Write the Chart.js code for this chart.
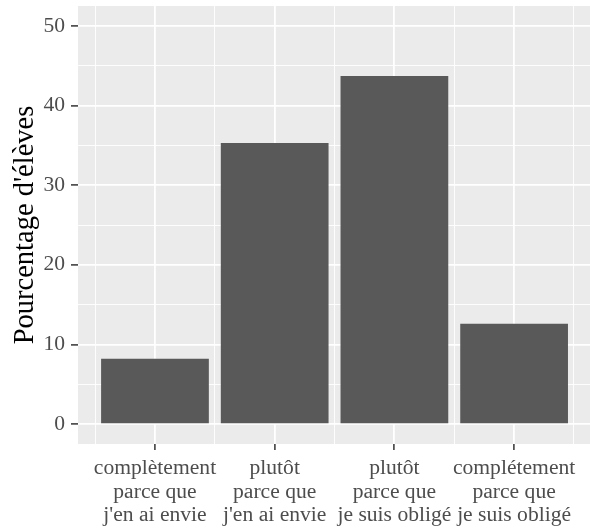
<!DOCTYPE html>
<html><head><meta charset="utf-8">
<script src="https://cdn.jsdelivr.net/npm/chart.js@4/dist/chart.umd.min.js"></script>
<style>html,body{margin:0;padding:0;background:#fff;overflow:hidden}</style>
</head><body>
<canvas id="c" width="590" height="529"></canvas>
<script>
const categories = [
  ["complètement", "parce que", "j'en ai envie"],
  ["plutôt", "parce que", "j'en ai envie"],
  ["plutôt", "parce que", "je suis obligé"],
  ["complétement", "parce que", "je suis obligé"]
];
const values = [8.2, 35.3, 43.7, 12.6];
const yMajorTicks = [0, 10, 20, 30, 40, 50];
const yMinorTicks = [5, 15, 25, 35, 45];
const xMinorTicks = [0.5, 1.5, 2.5, 3.5, 4.5];
const yTitle = "Pourcentage d'élèves";

const xPositions = categories.map((_, i) => i + 1);
const FONT = "'Liberation Serif', 'Times New Roman', serif";
const X_MIN = 0.357, X_MAX = 4.634, Y_MIN = -2.5, Y_MAX = 52.5;

const panelBg = {
  id: 'panelBg',
  beforeDraw(chart) {
    const {ctx, chartArea: a} = chart;
    ctx.save();
    ctx.fillStyle = '#EBEBEB';
    ctx.fillRect(a.left, a.top, a.right - a.left, a.bottom - a.top);
    ctx.restore();
  }
};

const isMajorY = v => yMajorTicks.includes(v);

new Chart(document.getElementById('c'), {
  type: 'bar',
  data: {
    datasets: [{
      data: xPositions.map((x, i) => ({x: x, y: values[i]})),
      backgroundColor: '#595959',
      borderWidth: 0,
      barPercentage: 0.9,
      categoryPercentage: 1.0,
      xAxisID: 'x',
      yAxisID: 'y'
    }]
  },
  options: {
    responsive: false,
    animation: false,
    devicePixelRatio: 1,
    layout: {padding: {top: 6, right: 0, bottom: 0, left: 0}},
    plugins: {legend: {display: false}, tooltip: {enabled: false}},
    scales: {
      x: {
        type: 'linear',
        position: 'bottom',
        offset: false,
        min: X_MIN, max: X_MAX,
        afterBuildTicks: s => { s.ticks = xPositions.map(v => ({value: v})); },
        afterFit: s => { s.height = 85; s.paddingLeft = 0; s.paddingRight = 0; },
        border: {display: false},
        grid: {
          offset: false,
          color: '#FFFFFF', lineWidth: 1.8,
          drawTicks: true, tickLength: 6, tickWidth: 1.5, tickColor: '#333333'
        },
        ticks: {
          autoSkip: false, maxRotation: 0, minRotation: 0,
          padding: 7,
          color: '#4D4D4D',
          font: {family: FONT, size: 21.6, lineHeight: 1.08},
          callback: v => categories[v - 1] || ''
        }
      },
      xMinor: {
        type: 'linear',
        position: 'bottom',
        offset: false,
        min: X_MIN, max: X_MAX,
        afterBuildTicks: s => { s.ticks = xMinorTicks.map(v => ({value: v})); },
        afterFit: s => { s.height = 0; s.paddingLeft = 0; s.paddingRight = 0; },
        border: {display: false},
        grid: {offset: false, color: '#FFFFFF', lineWidth: 0.9, drawTicks: false},
        ticks: {display: false}
      },
      y: {
        type: 'linear',
        min: Y_MIN, max: Y_MAX,
        afterBuildTicks: s => {
          s.ticks = [...yMajorTicks, ...yMinorTicks].sort((a, b) => a - b).map(v => ({value: v}));
        },
        afterFit: s => { s.width = 78; s.paddingTop = 0; s.paddingBottom = 0; },
        border: {display: false},
        grid: {
          color: '#FFFFFF',
          lineWidth: ctx => isMajorY(ctx.tick.value) ? 1.8 : 0.9,
          drawTicks: true, tickLength: 7, tickWidth: 1.5,
          tickColor: ctx => isMajorY(ctx.tick.value) ? '#333333' : 'rgba(0,0,0,0)'
        },
        ticks: {
          autoSkip: false,
          padding: 6,
          color: '#4D4D4D',
          font: {family: FONT, size: 21.6},
          callback: v => isMajorY(v) ? String(v) : ''
        },
        title: {
          display: true,
          text: yTitle,
          color: '#000000',
          font: {family: FONT, size: 28.5, lineHeight: 1.2},
          padding: {top: 8, bottom: 0}
        }
      }
    }
  },
  plugins: [panelBg]
});
</script>
</body></html>
